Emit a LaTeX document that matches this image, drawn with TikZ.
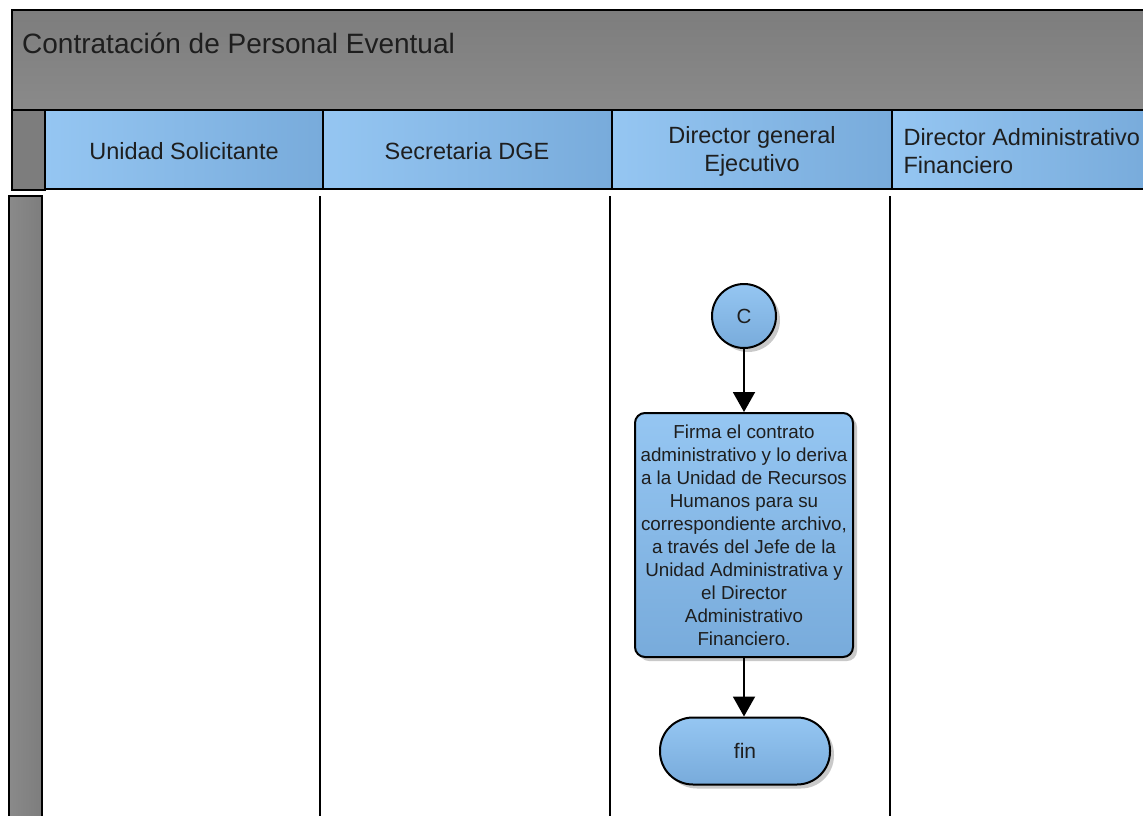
\documentclass[tikz,border=0pt]{standalone}
\usepackage{fontspec}
\setmainfont{Liberation Sans}
\usetikzlibrary{arrows.meta,shapes.geometric,shadows}
\definecolor{laneblue}{HTML}{84B6E4}
\definecolor{laneblueL}{HTML}{95C6F2}
\definecolor{laneblueD}{HTML}{78ABDB}
\definecolor{titlegray}{HTML}{7D7D7D}
\definecolor{titlegrayL}{HTML}{8A8A8A}
\definecolor{txt}{HTML}{1E1E1E}
\tikzset{
  frame/.style={draw=black, line width=2pt},
  headbox/.style={draw=black, line width=2pt, left color=laneblueL, right color=laneblueD},
  lanetext/.style={font=\fontsize{23.5}{28}\selectfont, text=txt, align=center},
  laneline/.style={draw=black, line width=2.5pt},
  shapeshadow/.style={drop shadow={shadow xshift=4pt, shadow yshift=-4pt, opacity=0.35, fill=black!60}},
  blueshape/.style={draw=black, line width=2pt, top color=laneblueL, bottom color=laneblueD, shapeshadow},
  flow/.style={draw=black, line width=2pt, -{Triangle[width=22pt,length=20pt]}},
}
\begin{document}
\begin{tikzpicture}[x=1pt,y=-1pt]
\useasboundingbox (0,0) rectangle (1143,816);
\fill[white] (0,0) rectangle (1143,816);
% title band
\path[frame, top color=titlegray, bottom color=titlegrayL] (12,10) rectangle (1150,110);
\node[anchor=west, font=\fontsize{28}{32}\selectfont, text=txt, inner sep=0pt] (title) at (22,43) {Contratación de Personal Eventual};
% header row
\path[frame, fill=titlegray] (12,110) rectangle (45,190);
\path[headbox] (45,110) rectangle (323,189);
\path[headbox] (323,110) rectangle (612,189);
\path[headbox] (612,110) rectangle (892,189);
\path[headbox] (892,110) rectangle (1150,189);
\node[lanetext] (h1) at (184,151) {Unidad Solicitante};
\node[lanetext] (h2) at (467,151) {Secretaria DGE};
\node[lanetext] (h3) at (752,151) {Director general\\Ejecutivo};
\node[lanetext, align=left, anchor=west] (h4) at (900,151) {Director Administrativo\\Financiero};
% body
\path[draw=black, line width=2.5pt, left color=titlegrayL, right color=titlegray] (9,196) rectangle (42,830);
\draw[laneline] (320,196) -- (320,830);
\draw[laneline] (610,196) -- (610,830);
\draw[laneline] (890,196) -- (890,830);
% flow
\node[circle, blueshape, minimum size=64pt, inner sep=0pt, font=\fontsize{20.5}{24}\selectfont, text=txt] (c) at (744,316) {C};
\node[rectangle, rounded corners=10pt, blueshape, minimum width=218pt, minimum height=244pt, inner sep=0pt, align=center, font=\fontsize{18.8}{23}\selectfont, text=txt] (task) at (744,535) {Firma el contrato\\administrativo y lo deriva\\a la Unidad de Recursos\\Humanos para su\\correspondiente archivo,\\a través del Jefe de la\\Unidad Administrativa y\\el Director\\Administrativo\\Financiero.};
\node[rectangle, rounded corners=33pt, blueshape, minimum width=170pt, minimum height=67pt, inner sep=0pt, font=\fontsize{21}{24}\selectfont, text=txt] (fin) at (745,751) {fin};
\draw[flow] (c.south) -- (task.north);
\draw[flow] (task.south) -- (task.south |- fin.north);
\end{tikzpicture}
\end{document}
